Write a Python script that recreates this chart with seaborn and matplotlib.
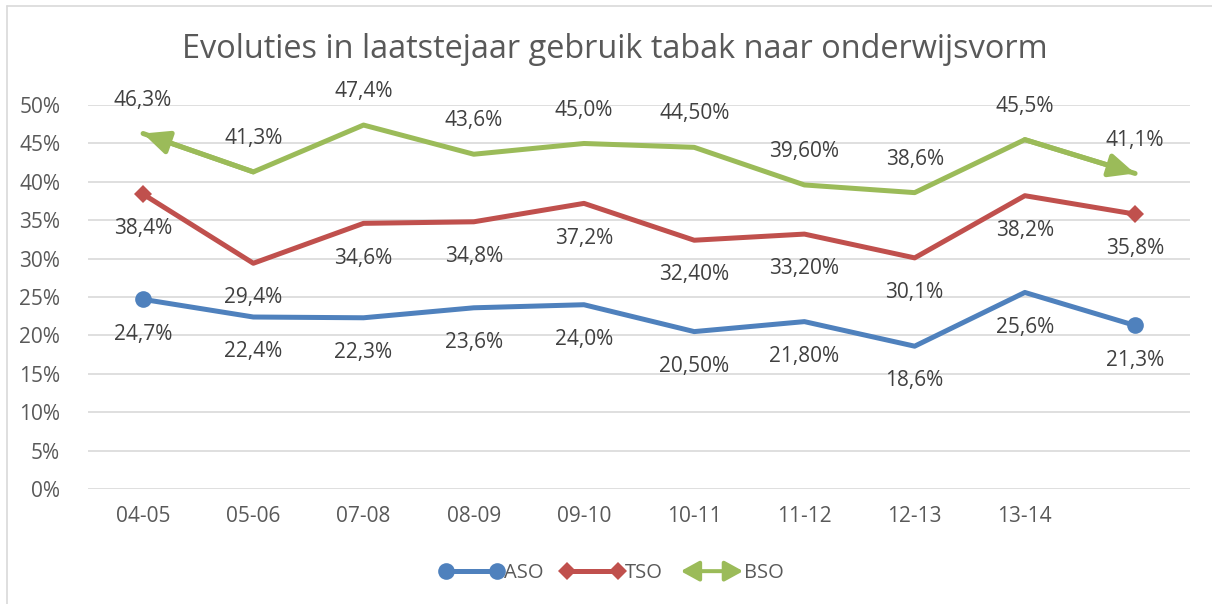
import matplotlib
matplotlib.use("Agg")
import matplotlib.pyplot as plt
import seaborn as sns
import numpy as np
from matplotlib.lines import Line2D
from matplotlib.patches import FancyArrowPatch
from matplotlib.legend_handler import HandlerBase

# data
schooljaren = ["04-05", "05-06", "07-08", "08-09", "09-10", "10-11", "11-12", "12-13", "13-14", ""]
aso = [24.7, 22.4, 22.3, 23.6, 24.0, 20.5, 21.8, 18.6, 25.6, 21.3]
tso = [38.4, 29.4, 34.6, 34.8, 37.2, 32.4, 33.2, 30.1, 38.2, 35.8]
bso = [46.3, 41.3, 47.4, 43.6, 45.0, 44.5, 39.6, 38.6, 45.5, 41.1]
aso_labels = ["24,7%", "22,4%", "22,3%", "23,6%", "24,0%", "20,50%", "21,80%", "18,6%", "25,6%", "21,3%"]
tso_labels = ["38,4%", "29,4%", "34,6%", "34,8%", "37,2%", "32,40%", "33,20%", "30,1%", "38,2%", "35,8%"]
bso_labels = ["46,3%", "41,3%", "47,4%", "43,6%", "45,0%", "44,50%", "39,60%", "38,6%", "45,5%", "41,1%"]

BLUE = "#4f81bd"
RED = "#c0504d"
GREEN = "#9bbb59"
GREY = "#595959"

sns.set_style("white")
plt.rcParams["font.family"] = ["Open Sans", "DejaVu Sans"]

fig = plt.figure(figsize=(12.12, 6.04), dpi=100)
ax = fig.add_axes([0.0726, 0.1904, 0.9094, 0.6356])

x = np.arange(len(schooljaren))
lw = 3.6

sns.lineplot(x=x, y=aso, ax=ax, color=BLUE, lw=lw, marker="o", markersize=12,
             markevery=[0, len(x) - 1], markeredgewidth=0)
sns.lineplot(x=x, y=tso, ax=ax, color=RED, lw=lw, marker="D", markersize=9.5,
             markevery=[0, len(x) - 1], markeredgewidth=0)
sns.lineplot(x=x, y=bso, ax=ax, color=GREEN, lw=lw)

# arrow heads at the ends of the BSO line
for a, b in [(1, 0), (len(x) - 2, len(x) - 1)]:
    ax.annotate("", xy=(x[b], bso[b]), xytext=(x[a], bso[a]),
                arrowprops=dict(arrowstyle="-|>,head_length=1.1,head_width=0.5",
                                color=GREEN, lw=lw, shrinkA=0, shrinkB=0,
                                mutation_scale=14))

# data labels
lab_kw = dict(textcoords="offset points", ha="center", va="center",
              fontsize=15, color="#404040")
for i in x:
    ax.annotate(bso_labels[i], (i, bso[i]), xytext=(0, 24), **lab_kw)
    ax.annotate(tso_labels[i], (i, tso[i]), xytext=(0, -25), **lab_kw)
    ax.annotate(aso_labels[i], (i, aso[i]), xytext=(0, -25), **lab_kw)

ax.set_xlim(-0.5, len(x) - 0.5)
ax.set_ylim(0, 50)
ax.set_yticks(np.arange(0, 51, 5))
ax.set_yticklabels([f"{v}%" for v in range(0, 51, 5)])
ax.set_xticks(x)
ax.set_xticklabels(schooljaren)
ax.tick_params(axis="both", length=0, labelsize=15, labelcolor=GREY)
ax.tick_params(axis="y", pad=20)
ax.tick_params(axis="x", pad=12)
ax.grid(axis="y", color="#d9d9d9", lw=1.2)
ax.set_axisbelow(True)
for s in ax.spines.values():
    s.set_visible(False)
ax.set_xlabel("")
ax.set_ylabel("")

fig.text(0.507, 0.918, "Evoluties in laatstejaar gebruik tabak naar onderwijsvorm",
         ha="center", va="center", fontsize=23.4, color=GREY)


class DoubleArrowHandler(HandlerBase):
    def create_artists(self, legend, orig_handle, xdescent, ydescent, width, height, fontsize, trans):
        y = height / 2 - ydescent
        arr = FancyArrowPatch((-xdescent, y), (width - xdescent, y),
                              arrowstyle="<|-|>,head_length=1.0,head_width=0.55",
                              mutation_scale=11, color=GREEN, lw=lw * 0.8,
                              shrinkA=0, shrinkB=0, transform=trans)
        return [arr]


h_aso = Line2D([], [], color=BLUE, lw=lw, marker="o", markersize=12, markeredgewidth=0)
h_tso = Line2D([], [], color=RED, lw=lw, marker="D", markersize=9.5, markeredgewidth=0)
h_bso = Line2D([], [], color=GREEN, lw=lw)
fig.legend([h_aso, h_tso, h_bso], ["ASO", "TSO", "BSO"], loc="center",
           bbox_to_anchor=(0.505, 0.051), ncol=3, frameon=False, numpoints=2,
           handlelength=3.1, handletextpad=0.05, columnspacing=0.9,
           fontsize=14.5, labelcolor=GREY, handler_map={h_bso: DoubleArrowHandler()})

# chart frame (only left and top edges visible in the crop)
fig.add_artist(Line2D([0.0055, 0.0055], [0.0, 0.99], transform=fig.transFigure,
                      color="#d9d9d9", lw=1.2))
fig.add_artist(Line2D([0.0055, 1.0], [0.99, 0.99], transform=fig.transFigure,
                      color="#d9d9d9", lw=1.2))

fig.savefig("out.png", dpi=100)
